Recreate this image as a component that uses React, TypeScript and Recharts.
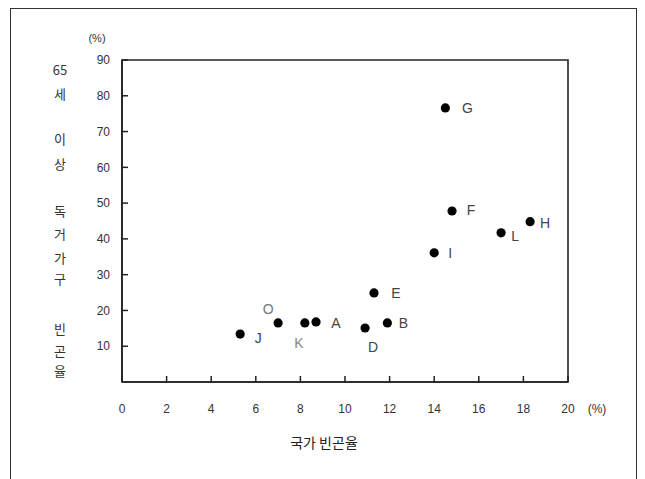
import { ScatterChart, Scatter, XAxis, YAxis, ReferenceArea } from 'recharts';

// 국가 빈곤율 vs 65세 이상 독거가구 빈곤율 (%)
const countries = ['J', 'O', 'K', 'A', 'D', 'B', 'E', 'I', 'G', 'F', 'L', 'H'];
const nationalPoverty = [5.3, 7.0, 8.2, 8.7, 10.9, 11.9, 11.3, 14.0, 14.5, 14.8, 17.0, 18.3];
const elderlySingleHouseholdPoverty = [13.4, 16.5, 16.5, 16.8, 15.1, 16.5, 24.9, 36.1, 76.6, 47.8, 41.7, 44.8];
const xTicks = [0, 2, 4, 6, 8, 10, 12, 14, 16, 18, 20];
const yTicks = [10, 20, 30, 40, 50, 60, 70, 80, 90];

const data = countries.map((name, i) => ({
  name,
  x: nationalPoverty[i],
  y: elderlySingleHouseholdPoverty[i],
}));

// label offset from the marker (px) and colour
const labelPlacement: Record<string, { dx: number; dy: number; color?: string }> = {
  J: { dx: 18, dy: 4 },
  O: { dx: -10, dy: -14, color: '#777' },
  K: { dx: -6, dy: 20, color: '#888' },
  A: { dx: 20, dy: 1 },
  D: { dx: 8, dy: 19 },
  B: { dx: 16, dy: 0 },
  E: { dx: 22, dy: 0 },
  I: { dx: 16, dy: 0 },
  G: { dx: 22, dy: 0 },
  F: { dx: 19, dy: -1 },
  L: { dx: 14, dy: 3 },
  H: { dx: 15, dy: 1 },
};

const yLabelChars: [string, number][] = [
  ['65', 69], ['세', 93], ['이', 138], ['상', 163], ['독', 210], ['거', 233],
  ['가', 257], ['구', 278], ['빈', 328], ['곤', 350], ['율', 370],
];

const sans = 'Liberation Sans, Arial, sans-serif';
const korean = '"Noto Sans CJK KR", sans-serif';
const tickStyle = { fill: '#333', fontSize: 12, fontFamily: sans };

function PointShape(props: any) {
  const { cx, cy, payload } = props;
  const p = labelPlacement[payload.name] || { dx: 18, dy: 0 };
  return (
    <g>
      <circle cx={cx} cy={cy} r={4.6} fill="#000" />
      <text
        x={cx + p.dx}
        y={cy + p.dy}
        textAnchor="middle"
        dominantBaseline="central"
        fontSize={14}
        fontFamily={sans}
        fill={p.color || '#444'}
      >
        {payload.name}
      </text>
    </g>
  );
}

export default function App() {
  return (
    <div style={{ position: 'absolute', left: 0, top: 0, width: 645, height: 479, background: '#fff', overflow: 'hidden' }}>
      <div
        style={{
          position: 'absolute',
          left: 10,
          top: 8,
          width: 625,
          height: 480,
          border: '1.5px solid #333',
        }}
      />
      <ScatterChart width={645} height={479} margin={{ top: 60, right: 77, bottom: 67, left: 82 }}>
        <ReferenceArea x1={0} x2={20} y1={0} y2={90} fill="none" fillOpacity={0} stroke="#222" strokeWidth={1.6} />
        {/* negative tickSize turns the tick marks inward */}
        <XAxis
          type="number"
          dataKey="x"
          domain={[0, 20]}
          ticks={xTicks}
          interval={0}
          height={30}
          tickSize={-6}
          tickMargin={28}
          tickLine={{ stroke: '#222', strokeWidth: 1.5 }}
          tick={tickStyle}
          axisLine={{ stroke: '#222', strokeWidth: 1.6 }}
        />
        <YAxis
          type="number"
          dataKey="y"
          domain={[0, 90]}
          ticks={yTicks}
          interval={0}
          width={40}
          tickSize={-6}
          tickMargin={18}
          tickLine={{ stroke: '#222', strokeWidth: 1.5 }}
          tick={tickStyle}
          axisLine={{ stroke: '#222', strokeWidth: 1.6 }}
        />
        <Scatter data={data} shape={PointShape} isAnimationActive={false} />
      </ScatterChart>

      {yLabelChars.map(([c, y]) => (
        <div
          key={c + y}
          style={{
            position: 'absolute',
            left: 60,
            top: y,
            transform: 'translate(-50%, -50%)',
            fontFamily: korean,
            fontSize: 13,
            color: '#333',
            lineHeight: 1,
          }}
        >
          {c}
        </div>
      ))}
      <div style={{ position: 'absolute', left: 97, top: 38, transform: 'translate(-50%, -50%)', fontSize: 11, color: '#333', fontFamily: sans }}>
        (%)
      </div>
      <div style={{ position: 'absolute', left: 597, top: 409, transform: 'translate(-50%, -50%)', fontSize: 12, color: '#333', fontFamily: sans }}>
        (%)
      </div>
      <div style={{ position: 'absolute', left: 324, top: 442, transform: 'translate(-50%, -50%)', fontSize: 14, color: '#222', fontFamily: korean, whiteSpace: 'nowrap' }}>
        국가 빈곤율
      </div>
    </div>
  );
}
